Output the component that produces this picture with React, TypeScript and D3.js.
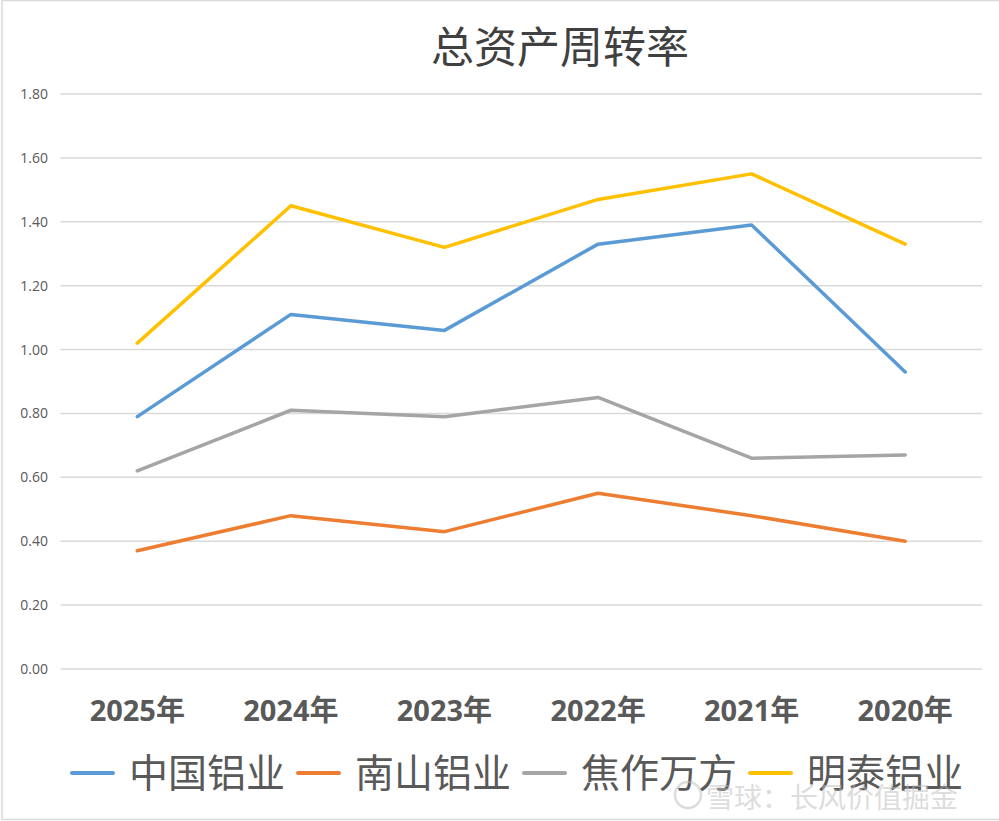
import React from "react";
import * as d3 from "d3";

const categories = ["2025年", "2024年", "2023年", "2022年", "2021年", "2020年"];
const seriesNames = ["中国铝业", "南山铝业", "焦作万方", "明泰铝业"];
const chalco = [0.79, 1.11, 1.06, 1.33, 1.39, 0.93];
const nanshan = [0.37, 0.48, 0.43, 0.55, 0.48, 0.40];
const jiaozuo = [0.62, 0.81, 0.79, 0.85, 0.66, 0.67];
const mingtai = [1.02, 1.45, 1.32, 1.47, 1.55, 1.33];
const yTicks = [0, 0.2, 0.4, 0.6, 0.8, 1.0, 1.2, 1.4, 1.6, 1.8];
const colors = ["#5B9BD5", "#ED7D31", "#A5A5A5", "#FFC000"];

const W = 999;
const H = 821;

export default function App() {
  const x = d3.scaleBand<string>().domain(categories).range([60.5, 982]);
  const y = d3.scaleLinear().domain([0, 1.8]).range([669, 94]);
  const line = d3
    .line<number>()
    .x((_, i) => (x(categories[i]) as number) + x.bandwidth() / 2)
    .y((d) => y(d));
  const series = [chalco, nanshan, jiaozuo, mingtai];
  const legendX = [72, 298, 524, 750];
  const cjk = "'Noto Sans CJK SC', sans-serif";
  return (
    <div style={{ position: "absolute", left: 0, top: 0 }}>
      <svg width={W} height={H} style={{ display: "block", background: "#fff" }}>
        <rect x={2} y={0.5} width={W + 10} height={H - 2} fill="#fff" stroke="#d9d9d9" strokeWidth={1.5} />
        <text x={560} y={63} textAnchor="middle" fontFamily={cjk} fontSize={43} fill="#404040">
          总资产周转率
        </text>
        {yTicks.map((t) => (
          <g key={t}>
            <line x1={60.5} x2={982} y1={y(t)} y2={y(t)} stroke="#d9d9d9" strokeWidth={1.5} />
            <text
              x={48}
              y={y(t) + 5}
              textAnchor="end"
              fontFamily="'Open Sans', sans-serif"
              fontSize={14}
              fill="#595959"
            >
              {t.toFixed(2)}
            </text>
          </g>
        ))}
        {categories.map((c) => (
          <text
            key={c}
            x={(x(c) as number) + x.bandwidth() / 2}
            y={721}
            textAnchor="middle"
            fontFamily="'Open Sans', 'Noto Sans CJK SC', sans-serif"
            fontWeight="bold"
            fontSize={29}
            fill="#595959"
          >
            {c}
          </text>
        ))}
        {series.map((s, i) => (
          <path
            key={seriesNames[i]}
            d={line(s) as string}
            fill="none"
            stroke={colors[i]}
            strokeWidth={3.5}
            strokeLinejoin="round"
            strokeLinecap="round"
          />
        ))}
        {seriesNames.map((n, i) => (
          <g key={n}>
            <line
              x1={legendX[i]}
              x2={legendX[i] + 41}
              y1={773}
              y2={773}
              stroke={colors[i]}
              strokeWidth={4}
              strokeLinecap="round"
            />
            <text x={legendX[i] + 57} y={787} fontFamily={cjk} fontSize={39} fill="#595959">
              {n}
            </text>
          </g>
        ))}
        <g opacity={0.5}>
          <circle cx={688} cy={795} r={13} fill="none" stroke="#bbb" strokeWidth={2.5} />
          <text x={706} y={808} fontFamily={cjk} fontSize={28} fill="#bdbdbd">
            雪球：长风价值掘金
          </text>
        </g>
      </svg>
    </div>
  );
}
